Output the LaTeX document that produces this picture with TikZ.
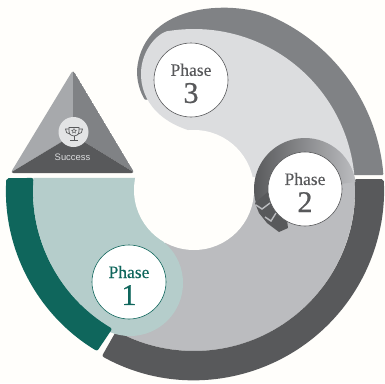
\documentclass[tikz,border=0pt]{standalone}
\usepackage{fontspec}
\newfontfamily\labelfont{Liberation Sans}
\newfontfamily\phasefont[FakeBold=0.25]{Liberation Serif}
\newfontfamily\digitfont[FakeBold=0.7]{Liberation Serif}
\usetikzlibrary{shapes.geometric,positioning}
\definecolor{paper}{HTML}{FFFEFB}
\definecolor{tealdark}{HTML}{0F665C}
\definecolor{teallight}{HTML}{B5CDCB}
\definecolor{greydark}{HTML}{58595B}
\definecolor{greymid}{HTML}{808285}
\definecolor{greysoft}{HTML}{A7A9AC}
\definecolor{greyfill}{HTML}{BBBCBF}
\definecolor{greylight}{HTML}{DCDDDF}
\newcommand{\phaselabel}[1]{\phasefont\fontsize{17.5}{17}\selectfont\rule{0pt}{19pt}Phase\\[6pt]\digitfont\fontsize{30}{26}\selectfont #1}
\begin{document}
\begin{tikzpicture}[x=1pt,y=-1pt]
	\tikzstyle{phase}=[circle,draw,fill=white,line width=0.6pt,minimum size=74pt,inner sep=0pt,align=center]
	\tikzstyle{tro}=[draw=greydark,line width=0.7pt,fill=none]
	\fill[paper] (0,0) rectangle (385,383);
	\useasboundingbox (0,0) rectangle (385,383);
	\begin{scope}[shift={(194,190)}]
		% bottom half of the wheel
		\fill[greyfill] (0,0) -- (-4.6:161) arc[start angle=-4.6,end angle=119,radius=161] -- cycle;
		\fill[greydark,rounded corners=2] (119:190) arc[start angle=119,end angle=-3.3,radius=190] -- (-3.9:161) arc[start angle=-3.9,end angle=118.9,radius=161] -- cycle;
		% upper band and its light side
		\fill[greymid,rounded corners=1] (-4.5:190) arc[start angle=-4.5,end angle=-65,radius=190] .. controls (44,-190) and (-50,-190) .. (-57,-120) .. controls (-57,-110) and (-55,-100) .. (-49,-90) -- (0,-100) -- (-5.3:161) -- cycle;
		\fill[greylight] (-4.6:161) arc[start angle=-4.6,end angle=-98,radius=161] .. controls (-34,-160) and (-52,-142) .. (-53,-118) .. controls (-54,-90) and (-34,-62) .. (16,-55) -- (56,-13) -- cycle;
		% left part
		\fill[teallight] (184.3:161) arc[start angle=184.3,end angle=120.5,radius=161] -- (-54,100) -- (-29,50) -- (-29,-12) -- cycle;
		\fill[teallight] (-64,93) circle[radius=53];
		\fill[tealdark,rounded corners=2] (183.6:188) arc[start angle=183.6,end angle=121,radius=188] -- (120.5:161) arc[start angle=120.5,end angle=184.3,radius=161] -- cycle;
		\fill[paper] (0,0) circle[radius=60];
	\end{scope}
	% ring around phase 2
	\begin{scope}[shift={(305,189)}]
		\shade[left color=greydark,right color=greyfill] (-8:51) arc[start angle=-8,end angle=-198,radius=51] -- (0,0) -- cycle;
	\end{scope}
	\fill[greydark] (255,203) -- (259,213) -- (267,223) -- (279,232) -- (288,228) -- (287,220) -- (280,214) -- (272,203) -- (270,190) -- cycle;
	\draw[greyfill,line width=1.4pt] (256,205) -- (262,209) -- (270,203);
	\draw[greyfill,line width=1.4pt] (265,217) -- (271,221) -- (276,213);
	\node[phase,draw=tealdark,text=tealdark] (phaseone) at (129,282) {\phaselabel{1}};
	\node[phase,draw=greydark,text=greydark] (phasetwo) at (305,189) {\phaselabel{2}};
	\node[phase,draw=greydark,text=greydark] (phasethree) at (191,80) {\phaselabel{3}};
	% success triangle
	\begin{scope}
		\clip[rounded corners=3] (73,70) -- (134.5,173) -- (10.5,173) -- cycle;
		\fill[greysoft] (73,70) -- (73,135) -- (10,173) -- cycle;
		\fill[greymid] (73,70) -- (73,135) -- (135,173) -- cycle;
		\fill[greydark] (73,135) -- (135,173) -- (10,173) -- cycle;
	\end{scope}
	\node[circle,fill=greylight!80!white,minimum size=30pt,inner sep=0pt] (badge) at (73.5,132) {};
	\draw[tro] (69,127.5) -- (79,127.5) -- (79,131) .. controls (79,135) and (76,136) .. (74,136) .. controls (72,136) and (69,135) .. (69,131) -- cycle;
	\draw[tro] (69,129) -- (65.5,129) .. controls (65.5,132) and (67,134) .. (70,134);
	\draw[tro] (79,129) -- (82.5,129) .. controls (82.5,132) and (81,134) .. (78,134);
	\draw[tro] (74,136) -- (74,140) (70,140.5) -- (78,140.5);
	\node[star,star points=5,star point ratio=2.2,draw=greydark,line width=0.4pt,inner sep=0pt,minimum size=5pt] (cupstar) at (74,131) {};
	\node[text=greylight,font=\labelfont\fontsize{9.4}{10}\selectfont] (success) at (72.5,157) {Success};
\end{tikzpicture}
\end{document}
